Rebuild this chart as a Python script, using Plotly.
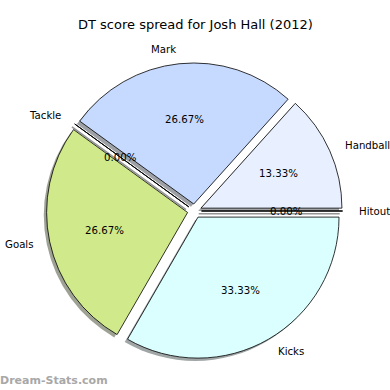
import math
import plotly.graph_objects as go

# ---- data ----
labels = ["Handball", "Mark", "Tackle", "Goals", "Kicks", "Hitout"]
values = [2, 4, 0, 4, 5, 0]
colors = ["#e8f0ff", "#c6d9ff", "#d9d9d9", "#d0ea8b", "#dbffff", "#f0f0f0"]
title_text = "DT score spread for Josh Hall (2012)"
watermark = "Dream-Stats.com"

# ---- geometry (pixels) ----
W = H = 390
CX, CY, R = 194.5, 211.0, 141.0
EXPLODE = 0.05
SHADOW = 0.02

def shadow_color(hexc):
    h = hexc.lstrip("#")
    r, g, b = (int(h[i:i + 2], 16) for i in (0, 2, 4))
    return "rgba(%d,%d,%d,0.5)" % (r * 0.3, g * 0.3, b * 0.3)

half = R * (1 + EXPLODE)
def dom(dx=0.0, dy=0.0):
    cx, cy = CX + dx, CY + dy
    return dict(x=[(cx - half) / W, (cx + half) / W],
                y=[1 - (cy + half) / H, 1 - (cy - half) / H])

total = sum(values)
# plotly (counterclockwise): first slice ends at `rotation`; make it start at 3 o'clock
rotation = 90 - 360.0 * values[0] / total

common = dict(labels=labels, values=values, sort=False, direction="counterclockwise",
              rotation=rotation, pull=[EXPLODE] * len(values), textinfo="none",
              hoverinfo="label+percent", showlegend=False)

fig = go.Figure()
xr = [-CX / R, (W - CX) / R]
yr = [-(H - CY) / R, CY / R]

# zero-value wedges are drawn by matplotlib as single radial edges
cum = 0.0
angles = []
for v in values:
    th = 2 * math.pi * (cum + v / 2) / total
    angles.append(th)
    cum += v
for v, th in zip(values, angles):
    if v == 0:
        c, s = math.cos(th), math.sin(th)
        xs = [EXPLODE * c, (EXPLODE + 1) * c]
        ys = [EXPLODE * s, (EXPLODE + 1) * s]
        fig.add_trace(go.Scatter(x=[x - SHADOW for x in xs], y=[y - SHADOW for y in ys],
                                 mode="lines", line=dict(color="rgba(60,60,60,0.55)", width=1.6),
                                 hoverinfo="skip", showlegend=False))
        fig.add_trace(go.Scatter(x=xs, y=ys, mode="lines", line=dict(color="black", width=0.8),
                                 hoverinfo="skip", showlegend=False))

# shadow
fig.add_trace(go.Pie(**common, domain=dom(-SHADOW * R, SHADOW * R),
                     marker=dict(colors=[shadow_color(c) for c in colors], line=dict(width=0))))
# main pie
fig.add_trace(go.Pie(**common, domain=dom(),
                     marker=dict(colors=colors, line=dict(color="black", width=0.8))))

annotations = []
font = dict(family="DejaVu Sans", size=10.2, color="black")
for lab, v, th in zip(labels, values, angles):
    c, s = math.cos(th), math.sin(th)
    lx, ly = (EXPLODE + 1.1) * c, (EXPLODE + 1.1) * s
    px, py = (EXPLODE + 0.6) * c, (EXPLODE + 0.6) * s
    annotations.append(dict(x=lx, y=ly, xref="x", yref="y", text=lab, showarrow=False,
                            xanchor="left" if lx > 0 else "right", yanchor="middle", font=font))
    annotations.append(dict(x=px, y=py, xref="x", yref="y", text="%.2f%%" % (100 * v / total),
                            showarrow=False, xanchor="center", yanchor="middle", font=font))

annotations.append(dict(x=0.5, y=1 - 25 / H, xref="paper", yref="paper", text=title_text,
                        showarrow=False, xanchor="center", yanchor="middle",
                        font=dict(family="DejaVu Sans", size=13, color="black")))
annotations.append(dict(x=0, y=1 - 380 / H, xref="paper", yref="paper", text="<b>" + watermark + "</b>",
                        showarrow=False, xanchor="left", yanchor="middle", xshift=-2,
                        font=dict(family="DejaVu Sans", size=11, color="#a8a8a8")))

fig.update_layout(
    width=W, height=H, margin=dict(l=0, r=0, t=0, b=0),
    paper_bgcolor="white", plot_bgcolor="rgba(0,0,0,0)",
    xaxis=dict(range=xr, domain=[0, 1], visible=False, fixedrange=True),
    yaxis=dict(range=yr, domain=[0, 1], visible=False, fixedrange=True),
    annotations=annotations,
)
fig.write_html("out.html", config={"displayModeBar": False},
               post_script="document.body.style.margin='0';document.body.style.padding='0';"
                           "document.body.style.overflow='hidden';")
